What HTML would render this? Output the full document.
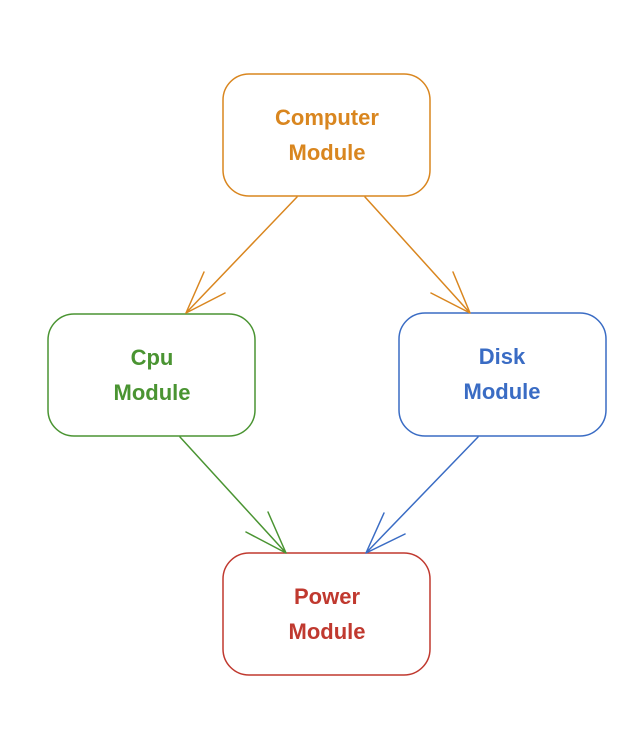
<!DOCTYPE html>
<html><head><meta charset="utf-8"><style>
html,body{margin:0;padding:0;background:#fff;}
svg{display:block;}
text{font-family:"Liberation Sans",sans-serif;font-size:22px;font-weight:bold;text-anchor:middle;}
</style></head><body>
<svg width="637" height="742" viewBox="0 0 637 742">
<rect width="637" height="742" fill="#fff"/>
<g fill="none" stroke-width="1.5" stroke-linecap="round">
<rect x="223" y="74" width="207" height="122" rx="26" stroke="#d9861f"/>
<rect x="48" y="314" width="207" height="122" rx="26" stroke="#4a9432"/>
<rect x="399" y="313" width="207" height="123" rx="26" stroke="#3a6cc4"/>
<rect x="223" y="553" width="207" height="122" rx="26" stroke="#c0392f"/>
<path d="M297 197 L186 313 M186 313 L204 272 M186 313 L225 293" stroke="#d9861f"/>
<path d="M365 197 L470 313 M470 313 L453 272 M470 313 L431 293" stroke="#d9861f"/>
<path d="M180 437 L286 553 M286 553 L268 512 M286 553 L246 532" stroke="#4a9432"/>
<path d="M478 437 L366 553 M366 553 L384 513 M366 553 L405 534" stroke="#3a6cc4"/>
</g>
<g fill="#d9861f"><text x="327" y="125">Computer</text><text x="327" y="160">Module</text></g>
<g fill="#4a9432"><text x="152" y="365">Cpu</text><text x="152" y="400">Module</text></g>
<g fill="#3a6cc4"><text x="502" y="364">Disk</text><text x="502" y="399">Module</text></g>
<g fill="#c0392f"><text x="327" y="604">Power</text><text x="327" y="639">Module</text></g>
</svg>
</body></html>
